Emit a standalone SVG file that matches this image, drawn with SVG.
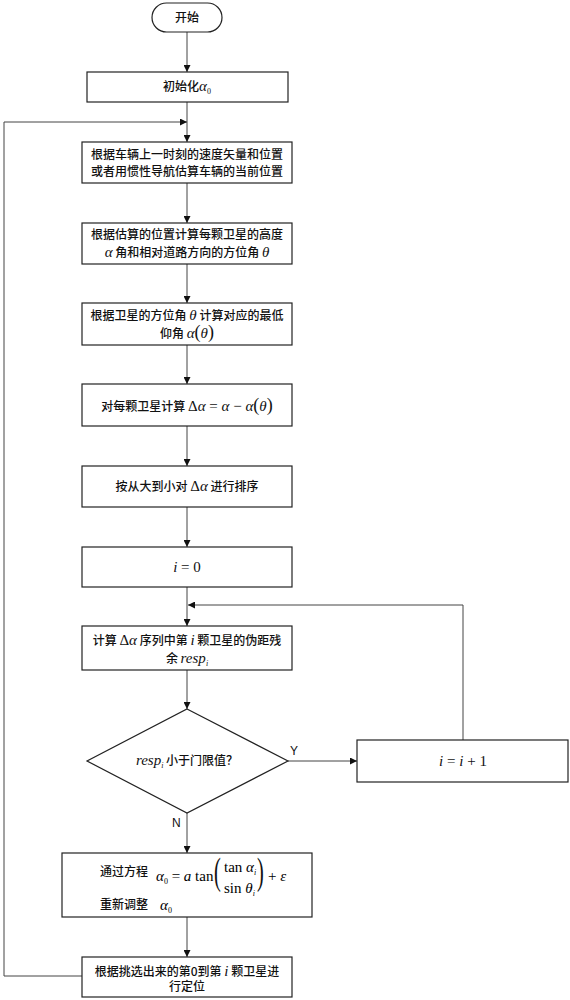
<svg xmlns="http://www.w3.org/2000/svg" width="570" height="1000" viewBox="0 0 570 1000">
<style>
.box{fill:#fff;stroke:#222;stroke-width:1.2}
.cn{font-family:"Noto Sans CJK SC","Liberation Sans",sans-serif;font-size:12px;font-weight:500;fill:#111}
.m{font-family:"Liberation Serif",serif;font-style:italic;font-size:15px;font-weight:normal}
.mu{font-family:"Liberation Serif",serif;font-style:normal;font-size:15px;font-weight:normal}
.par{font-family:"Liberation Serif",serif;font-style:normal;font-size:18px;font-weight:normal}
.sub{font-family:"Liberation Serif",serif;font-style:normal;font-size:8px;font-weight:normal}
.subi{font-family:"Liberation Serif",serif;font-style:italic;font-size:8px;font-weight:normal}
.lbl{font-family:"Liberation Sans",Arial,sans-serif;font-size:12px;fill:#111}
.conn{fill:none;stroke:#444;stroke-width:1}
.big{font-family:"Liberation Serif",serif;font-size:37px;font-weight:normal;fill:#111}
</style>
<defs>
<marker id="arr" viewBox="0 0 10 10" refX="10" refY="5" markerWidth="7" markerHeight="7" orient="auto" markerUnits="userSpaceOnUse">
<path d="M0,0 L10,5 L0,10 z" fill="#111"/>
</marker>
</defs>
<rect width="570" height="1000" fill="#fff"/>

<g id="connectors">
<line class="conn" x1="187" y1="32" x2="187" y2="72" marker-end="url(#arr)"/>
<line class="conn" x1="187" y1="102" x2="187" y2="142" marker-end="url(#arr)"/>
<polyline class="conn" points="82,976 4,976 4,122 187,122" marker-end="url(#arr)"/>
<line class="conn" x1="187" y1="183" x2="187" y2="223" marker-end="url(#arr)"/>
<line class="conn" x1="187" y1="264" x2="187" y2="303" marker-end="url(#arr)"/>
<line class="conn" x1="187" y1="345" x2="187" y2="384" marker-end="url(#arr)"/>
<line class="conn" x1="187" y1="426" x2="187" y2="466" marker-end="url(#arr)"/>
<line class="conn" x1="187" y1="507" x2="187" y2="547" marker-end="url(#arr)"/>
<line class="conn" x1="187" y1="587" x2="187" y2="626" marker-end="url(#arr)"/>
<polyline class="conn" points="463,740 463,605 188,605" marker-end="url(#arr)"/>
<line class="conn" x1="187" y1="670" x2="187" y2="709" marker-end="url(#arr)"/>
<line class="conn" x1="288" y1="761" x2="357" y2="761" marker-end="url(#arr)"/>
<line class="conn" x1="187" y1="813" x2="187" y2="853" marker-end="url(#arr)"/>
<line class="conn" x1="187" y1="917" x2="187" y2="957" marker-end="url(#arr)"/>
<text class="lbl" x="290" y="755">Y</text>
<text class="lbl" x="172" y="827">N</text>
</g>

<g id="start">
<rect class="box" x="152" y="3" width="70" height="29" rx="14.5"/>
<text class="cn" x="187" y="22" text-anchor="middle">开始</text>
</g>

<g id="init">
<rect class="box" x="87" y="72" width="201" height="30"/>
<text class="cn" x="187" y="91" text-anchor="middle">初始化<tspan class="m">α</tspan><tspan class="sub" dy="3">0</tspan></text>
</g>

<g id="estimate">
<rect class="box" x="82" y="142" width="210" height="41"/>
<text class="cn" x="187" y="159" text-anchor="middle">根据车辆上一时刻的速度矢量和位置</text>
<text class="cn" x="187" y="176" text-anchor="middle">或者用惯性导航估算车辆的当前位置</text>
</g>

<g id="angles">
<rect class="box" x="82" y="223" width="210" height="41"/>
<text class="cn" x="187" y="239" text-anchor="middle">根据估算的位置计算每颗卫星的高度</text>
<text class="cn" x="187" y="257" text-anchor="middle"><tspan class="m">α</tspan> 角和相对道路方向的方位角 <tspan class="m">θ</tspan></text>
</g>

<g id="minelev">
<rect class="box" x="82" y="303" width="210" height="42"/>
<text class="cn" x="187" y="320" text-anchor="middle">根据卫星的方位角 <tspan class="m">θ</tspan> 计算对应的最低</text>
<text class="cn" x="187" y="338" text-anchor="middle">仰角 <tspan class="m">α</tspan><tspan class="par">(</tspan><tspan class="m">θ</tspan><tspan class="par">)</tspan></text>
</g>

<g id="delta">
<rect class="box" x="82" y="384" width="210" height="42"/>
<text class="cn" x="187" y="411" text-anchor="middle">对每颗卫星计算 <tspan class="mu">Δ</tspan><tspan class="m">α</tspan><tspan class="mu"> = </tspan><tspan class="m">α</tspan><tspan class="mu"> − </tspan><tspan class="m">α</tspan><tspan class="par">(</tspan><tspan class="m">θ</tspan><tspan class="par">)</tspan></text>
</g>

<g id="sort">
<rect class="box" x="82" y="466" width="210" height="41"/>
<text class="cn" x="187" y="491" text-anchor="middle">按从大到小对 <tspan class="mu">Δ</tspan><tspan class="m">α</tspan> 进行排序</text>
</g>

<g id="init-i">
<rect class="box" x="82" y="547" width="210" height="40"/>
<text class="cn" x="187" y="572" text-anchor="middle"><tspan class="m">i</tspan><tspan class="mu"> = 0</tspan></text>
</g>

<g id="residual">
<rect class="box" x="82" y="626" width="210" height="44"/>
<text class="cn" x="187" y="645" text-anchor="middle">计算 <tspan class="mu">Δ</tspan><tspan class="m">α</tspan> 序列中第 <tspan class="m">i</tspan> 颗卫星的伪距残</text>
<text class="cn" x="187" y="663" text-anchor="middle">余 <tspan class="m">resp</tspan><tspan class="subi" dy="3">i</tspan></text>
</g>

<g id="decision">
<polygon class="box" points="187,709 288,761 187,813 87,761"/>
<text class="cn" x="187" y="765" text-anchor="middle"><tspan class="m">resp</tspan><tspan class="subi" dy="3">i</tspan><tspan dy="-3"> 小于门限值？</tspan></text>
</g>

<g id="increment">
<rect class="box" x="357" y="740" width="211" height="42"/>
<text class="cn" x="463" y="766" text-anchor="middle"><tspan class="m">i</tspan><tspan class="mu"> = </tspan><tspan class="m">i</tspan><tspan class="mu"> + 1</tspan></text>
</g>

<g id="adjust">
<rect class="box" x="62" y="853" width="250" height="64"/>
<text class="cn" x="100" y="876">通过方程</text>
<text class="m" x="156" y="881">α<tspan class="sub" dy="3">0</tspan><tspan class="mu" dy="-3"> = </tspan>a<tspan class="mu"> tan</tspan></text>
<text class="big" transform="translate(214 884) scale(0.55 1)">(</text>
<text class="mu" x="224" y="872">tan <tspan class="m">α</tspan><tspan class="subi" dy="3">i</tspan></text>
<text class="mu" x="224" y="893">sin <tspan class="m">θ</tspan><tspan class="subi" dy="3">i</tspan></text>
<text class="big" transform="translate(257 884) scale(0.55 1)">)</text>
<text class="mu" x="268" y="881">+ <tspan class="m">ε</tspan></text>
<text class="cn" x="100" y="909">重新调整</text>
<text class="m" x="160" y="910">α<tspan class="sub" dy="3">0</tspan></text>
</g>

<g id="position">
<rect class="box" x="82" y="957" width="210" height="40"/>
<text class="cn" x="187" y="976" text-anchor="middle">根据挑选出来的第0到第 <tspan class="m">i</tspan> 颗卫星进</text>
<text class="cn" x="187" y="991" text-anchor="middle">行定位</text>
</g>
</svg>
